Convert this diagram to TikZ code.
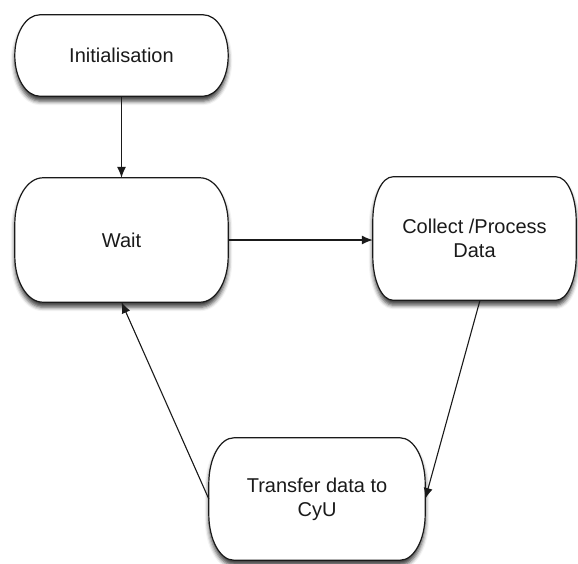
\documentclass[tikz,border=0pt]{standalone}
\usepackage{fontspec}
\setmainfont{Liberation Sans}
\usetikzlibrary{arrows.meta,calc,shadows.blur}
\pgfdeclarelayer{background}
\pgfsetlayers{background,main}
\definecolor{linec}{HTML}{1A1A1A}
\definecolor{textc}{HTML}{1A1A1A}
\tikzset{
  box/.style={draw=none,inner sep=0pt,align=center,text=textc,
    font=\fontsize{20}{24}\selectfont},
  boxshape/.style={draw=linec,line width=1.2pt,fill=white,
    blur shadow={shadow xshift=0pt,shadow yshift=-5pt,shadow blur radius=4pt,shadow opacity=75}},
  conn/.style={draw=linec,line width=1.1pt,-{Latex[length=11pt,width=9pt]}}
}
\newcommand\stadiumbox[3]{%
  \path[boxshape] ($(#1.north west)+(#2,0pt)$) -- ($(#1.north east)+(-#2,0pt)$)
    arc[start angle=90,end angle=0,x radius=#2,y radius=#3]
    -- ($(#1.south east)+(0pt,#3)$)
    arc[start angle=0,end angle=-90,x radius=#2,y radius=#3]
    -- ($(#1.south west)+(#2,0pt)$)
    arc[start angle=-90,end angle=-180,x radius=#2,y radius=#3]
    -- ($(#1.north west)+(0pt,-#3)$)
    arc[start angle=180,end angle=90,x radius=#2,y radius=#3]
    -- cycle;}
\begin{document}
\begin{tikzpicture}[x=1pt,y=-1pt]
\useasboundingbox (0,0) rectangle (578,563);
\node[box,minimum width=213pt,minimum height=81pt] (init) at (121.5,55.5) {Initialisation};
\node[box,minimum width=213pt,minimum height=124pt] (wait) at (121.5,240) {Wait};
\node[box,minimum width=203pt,minimum height=123pt] (collect) at (474.5,238.5) {Collect /Process\\Data};
\node[box,minimum width=216pt,minimum height=122pt] (transfer) at (317,499) {Transfer data to\\CyU};
\begin{pgfonlayer}{background}
\stadiumbox{init}{25pt}{40.5pt}
\stadiumbox{wait}{28pt}{46pt}
\stadiumbox{collect}{20pt}{44pt}
\stadiumbox{transfer}{25pt}{46pt}
\end{pgfonlayer}
\draw[conn] (init) -- (wait);
\draw[conn] (wait.east) -- (wait.east -| collect.west);
\coordinate (cstart) at ($(collect.south)+(5.5,0)$);
\draw[conn] (cstart) -- (transfer.east);
\draw[conn] (transfer.west) -- (wait.south);
\end{tikzpicture}
\end{document}
